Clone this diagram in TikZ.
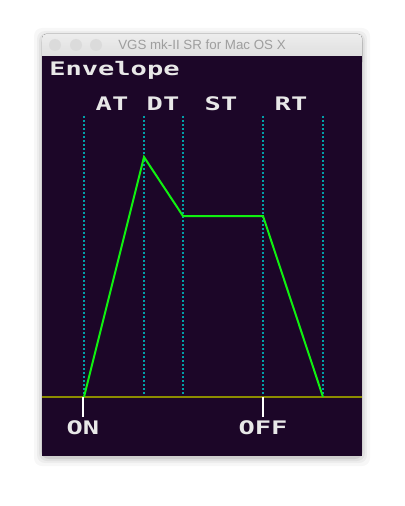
\documentclass[tikz,border=0pt]{standalone}
\usepackage{fontspec}
\setmainfont{Liberation Sans}
\newfontfamily\pixfont{DejaVu Sans Mono}
\newcommand{\pixtext}[1]{\scalebox{1.45}[1]{#1}}
\definecolor{vgsbg}{HTML}{1C0628}
\definecolor{vgscyan}{HTML}{00A0A8}
\definecolor{vgsgreen}{HTML}{10F010}
\definecolor{vgsolive}{HTML}{8C8C00}
\definecolor{vgstext}{HTML}{E8E8E8}
\definecolor{barhi}{HTML}{EDEDED}
\definecolor{barlo}{HTML}{D9D9D9}

\begin{document}
\begin{tikzpicture}[x=0.75pt,y=-0.75pt,
  every node/.style={inner sep=0pt},
  pix/.style={font=\pixfont\bfseries\fontsize{14}{15}\selectfont,text=vgstext},
  guide/.style={vgscyan,line width=1.5pt,dash pattern=on 1.5pt off 1.5pt},
  marker/.style={white,line width=1.5pt}]
  \useasboundingbox (0,0) rectangle (404,506);
  % soft shadow round the window
  \foreach \d/\o in {8/0.03,5/0.04,3/0.05,1/0.08}
    \fill[black,opacity=\o,rounded corners=6pt] (42-\d,34-\d+2) rectangle (362+\d,456+\d+2);
  % title bar
  \fill[top color=barhi,bottom color=barlo,rounded corners=3pt] (42,34) rectangle (362,66);
  \foreach \x in {55,76,96}
    \fill[black!14] (\x,45) circle[radius=6];
  \node[text=black!38,font=\fontsize{10}{12}\selectfont] (title) at (202,45) {VGS mk-II SR for Mac OS X};
  % screen
  \fill[vgsbg] (42,56) rectangle (362,456);
  \node[pix,anchor=base west] (envelope) at (49,76) {\pixtext{Envelope}};
  \node[pix,anchor=base] (at) at (112,111) {\pixtext{AT}};
  \node[pix,anchor=base] (dt) at (163,111) {\pixtext{DT}};
  \node[pix,anchor=base] (st) at (221,111) {\pixtext{ST}};
  \node[pix,anchor=base] (rt) at (291,111) {\pixtext{RT}};
  \foreach \x in {84,144,183,263,323}
    \draw[guide] (\x,116) -- (\x,396);
  \coordinate (base) at (42,397);
  \draw[vgsolive,line width=1.5pt] (base) -- (362,397);
  \draw[vgsgreen,line width=1.5pt] (84,397) -- (144,157) -- (183,216) -- (263,216) -- (323,397);
  % key on / key off
  \node[pix,anchor=base] (on) at (83,434) {\pixtext{ON}};
  \node[pix,anchor=base] (off) at (263,434) {\pixtext{OFF}};
  \draw[marker] ([yshift=2pt]on.north) -- (on.north |- base);
  \draw[marker] ([yshift=2pt]off.north) -- (off.north |- base);
\end{tikzpicture}
\end{document}
